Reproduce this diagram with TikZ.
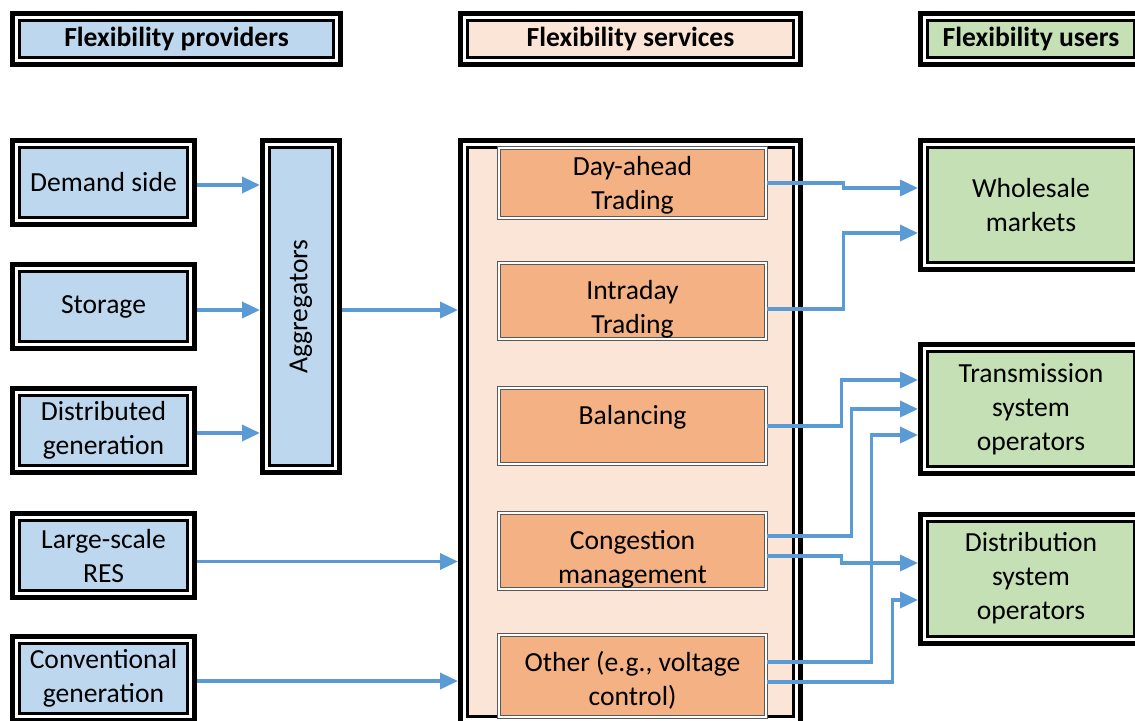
\documentclass[tikz,border=0pt]{standalone}
\usepackage{fontspec}
\setmainfont{Carlito}
\usetikzlibrary{arrows.meta}
\definecolor{provblue}{HTML}{BDD7EE}
\definecolor{servpeach}{HTML}{FBE5D6}
\definecolor{servorange}{HTML}{F4B183}
\definecolor{usergreen}{HTML}{C5E0B4}
\definecolor{flowblue}{HTML}{5B9BD5}
\tikzset{>={Triangle[length=9pt,width=8pt]}}
\tikzset{
  dbox/.style={draw=black, line width=1.5pt, fill=#1, outer sep=4.75pt, inner sep=0pt,
    preaction={draw=black, line width=9.5pt},
    preaction={draw=white, line width=4.5pt}, align=center},
  head/.style={dbox=#1, minimum height=18.5pt},
  prov/.style={dbox=provblue, minimum width=84pt, minimum height=35pt},
  user/.style={dbox=usergreen, minimum width=103.5pt, minimum height=57.5pt},
  sbox/.style={draw=black!65, double=white, line width=.5pt, double distance=.8pt,
    fill=servorange, inner sep=0pt, minimum width=133.5pt, minimum height=38pt,
    text height=18pt, text depth=20pt, align=center},
  sbox2/.style={sbox, text height=35pt, text depth=3pt},
  flow/.style={->, draw=flowblue, line width=1.75pt}
}

\begin{document}
\begin{tikzpicture}[x=0.5pt, y=-0.5pt, font=\fontsize{13.8}{17}\selectfont]
  \useasboundingbox (0,0) rectangle (1135,720);
  \clip (0,0) rectangle (1135,720);
  % headers
  \node[head=provblue, minimum width=157pt] (hprov) at (176.5,39) {\bfseries Flexibility providers};
  \node[head=servpeach, minimum width=163pt] (hserv) at (630.5,39) {\bfseries Flexibility services};
  \node[head=usergreen, minimum width=103.5pt] (huser) at (1031,39) {\bfseries Flexibility users};
  % providers
  \node[prov] (dem) at (103.5,182.5) {Demand side};
  \node[prov] (sto) at (103.5,306.5) {Storage};
  \node[prov] (dg) at (103.5,430.5) {Distributed\\generation};
  \node[prov] (res) at (103.5,555.5) {Large-scale\\RES};
  \node[prov] (conv) at (103.5,678.5) {Conventional\\generation};
  \node[dbox=provblue, minimum width=31.5pt, minimum height=159pt] (agg) at (301,306.5) {\rotatebox{90}{Aggregators}};
  % services
  \node[dbox=servpeach, minimum width=163pt, minimum height=284.5pt] (srv) at (630.5,432) {};
  \node[sbox2, minimum height=35pt, text height=30.5pt, text depth=4.5pt] (day) at (632.5,183) {Day-ahead\\Trading};
  \node[sbox2] (intra) at (632.5,301) {Intraday\\Trading};
  \node[sbox] (bal) at (632.5,426) {Balancing};
  \node[sbox2] (cong) at (632.5,551) {Congestion\\management};
  \node[sbox2, minimum height=41pt, text depth=6pt] (oth) at (632.5,676) {Other (e.g., voltage\\control)};
  % users
  \node[user] (whs) at (1031,205) {Wholesale\\markets};
  \node[user] (tso) at (1031,409) {Transmission\\system\\operators};
  \node[user] (dso) at (1031,578.5) {Distribution\\system\\operators};
  % arrows left
  \draw[flow] ([yshift=-1.25pt]dem.east) -- ([yshift=-1.25pt]dem.east -| agg.west);
  \draw[flow] ([yshift=-1.75pt]sto.east) -- ([yshift=-1.75pt]sto.east -| agg.west);
  \draw[flow] ([yshift=-1.25pt]dg.east) -- ([yshift=-1.25pt]dg.east -| agg.west);
  \draw[flow] ([yshift=-1.75pt]agg.east) -- ([yshift=-1.75pt]agg.east -| srv.west);
  \draw[flow] ([yshift=-3pt]res.east) -- ([yshift=-3pt]res.east -| srv.west);
  \draw[flow] ([yshift=-1.25pt]conv.east) -- ([yshift=-1.25pt]conv.east -| srv.west);
  % arrows right
  \draw[flow] (day.east) -- ++(77,0) |- ([yshift=8.5pt]whs.west);
  \draw[flow] ([yshift=-4pt]intra.east) -- ++(77,0) |- ([yshift=-14pt]whs.west);
  \draw[flow] (bal.east) -- ++(75,0) |- ([yshift=14.5pt]tso.west);
  \draw[flow] ([yshift=7.5pt]cong.east) -- ++(85,0) |- (tso.west);
  \draw[flow] ([yshift=-2.5pt]cong.east) -- ++(75,0) |- ([yshift=7.75pt]dso.west);
  \draw[flow] ([yshift=7pt]oth.east) -- ++(105,0) |- ([yshift=-13pt]tso.west);
  \draw[flow] ([yshift=-3pt]oth.east) -- ++(126,0) |- ([yshift=-10.75pt]dso.west);
\end{tikzpicture}
\end{document}
